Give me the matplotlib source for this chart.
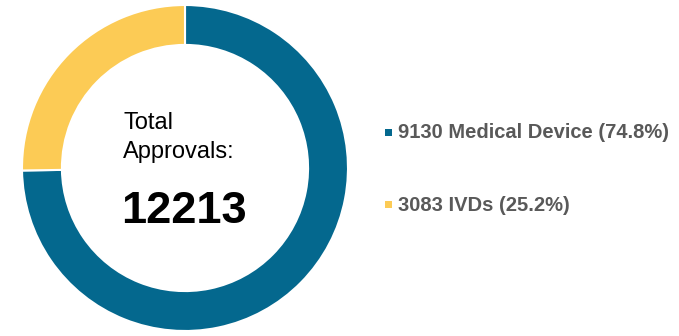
import matplotlib.pyplot as plt
from matplotlib.patches import Rectangle

plt.rcParams['font.family'] = ['Liberation Sans', 'DejaVu Sans']

# data
labels = ['Medical Device', 'IVDs']
counts = [9130, 3083]
shares = [74.8, 25.2]
colors = ['#04688E', '#FCCB55']
total = 12213

W, H = 679, 336
fig = plt.figure(figsize=(W / 100, H / 100), dpi=100)

# donut centre / radius in pixels
cx, cy, r = 185, 168, 163
ax = fig.add_axes([(cx - r) / W, (H - cy - r) / H, 2 * r / W, 2 * r / H])
ax.pie(counts, colors=colors, startangle=90, counterclock=False,
       wedgeprops=dict(width=0.245, edgecolor='white', linewidth=1.5))
ax.set_xlim(-1, 1)
ax.set_ylim(-1, 1)
ax.set_aspect('equal')
ax.axis('off')

# centre text
fig.text(123 / W, 1 - 129 / H, 'Total', fontsize=17, color='black')
fig.text(123 / W, 1 - 158 / H, 'Approvals:', fontsize=17, color='black')
fig.text(121 / W, 1 - 223 / H, str(total), fontsize=32.5, fontweight='bold', color='black')

# legend
legend_y = [133, 205]
for yy, n, lab, s, c in zip(legend_y, counts, labels, shares, colors):
    fig.patches.append(Rectangle(((385) / W, 1 - (yy + 3) / H), 7 / W, 7 / H,
                                 transform=fig.transFigure, facecolor=c, edgecolor='none'))
    fig.text(398 / W, 1 - yy / H, f'{n} {lab} ({s}%)', fontsize=14.5, fontweight='bold',
             color='#595959', va='center')

fig.savefig('out.png', dpi=100)
